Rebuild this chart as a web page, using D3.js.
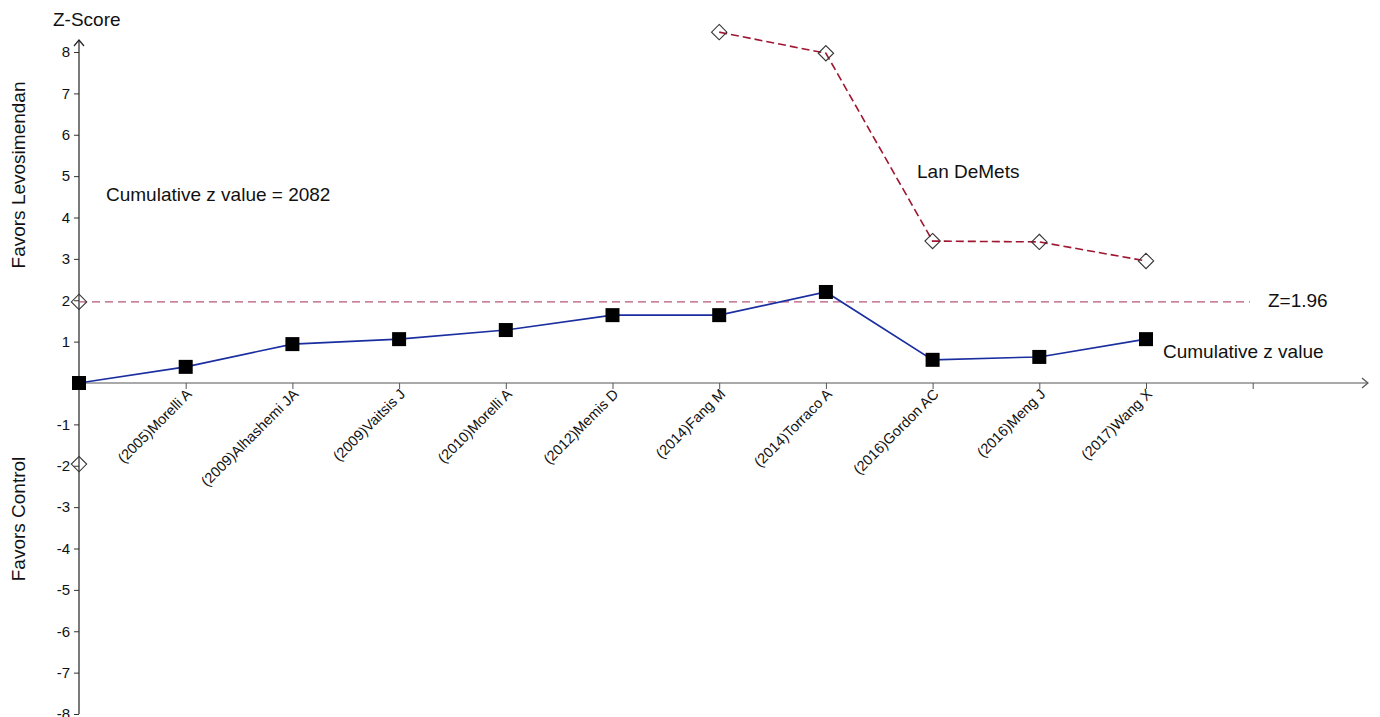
<!DOCTYPE html>
<html>
<head>
<meta charset="utf-8">
<script src="https://cdn.jsdelivr.net/npm/d3@7"></script>
<style>
body { margin: 0; background: #fff; }
text { font-family: "Liberation Sans", Arial, sans-serif; fill: #111; }
</style>
</head>
<body>
<script>
// studies along the x axis (index 0 is the origin)
var studies = ["(2005)Morelli A", "(2009)Alhashemi JA", "(2009)Vaitsis J", "(2010)Morelli A",
  "(2012)Memis D", "(2014)Fang M", "(2014)Torraco A", "(2016)Gordon AC", "(2016)Meng J", "(2017)Wang X"];
var cumZ = [0, 0.39, 0.94, 1.06, 1.28, 1.64, 1.64, 2.20, 0.56, 0.63, 1.06];
// Lan DeMets boundary, from Fang M onwards
var ldIndex = [6, 7, 8, 9, 10];
var ldZ = [8.48, 7.97, 3.43, 3.41, 2.95];
var yTicks = [-8, -7, -6, -5, -4, -3, -2, -1, 1, 2, 3, 4, 5, 6, 7, 8];

var svg = d3.select("body").append("svg")
  .attr("width", 1380)
  .attr("height", 717);

var x = d3.scaleLinear().domain([0, 10]).range([79, 1146]);
var y = d3.scaleLinear().domain([-8, 8]).range([714, 52]);

// y axis
var yAxis = svg.append("g")
  .attr("transform", "translate(" + x(0) + ",0)")
  .call(d3.axisLeft(y).tickValues(yTicks).tickSize(5).tickPadding(4).tickFormat(function(d) { return String(d); }));
yAxis.select(".domain").remove();
yAxis.selectAll("line").attr("stroke", "#333");
yAxis.selectAll("text").style("font-size", "15px").style("font-family", "Liberation Sans, Arial, sans-serif");
svg.append("line")
  .attr("x1", x(0)).attr("x2", x(0))
  .attr("y1", y(-8)).attr("y2", 40)
  .attr("stroke", "#222").attr("stroke-width", 1.2);
svg.append("path")
  .attr("d", "M" + (x(0) - 5) + ",46 L" + x(0) + ",40 L" + (x(0) + 5) + ",46")
  .attr("fill", "none").attr("stroke", "#222").attr("stroke-width", 1.2);

// x axis
var xAxis = svg.append("g")
  .attr("transform", "translate(0," + y(0) + ")")
  .call(d3.axisBottom(x).tickValues(d3.range(1, 12)).tickSize(6).tickFormat(""));
xAxis.select(".domain").remove();
xAxis.selectAll("line").attr("stroke", "#555");
svg.append("line")
  .attr("x1", x(0)).attr("x2", 1368)
  .attr("y1", y(0)).attr("y2", y(0))
  .attr("stroke", "#555").attr("stroke-width", 1.2);
svg.append("path")
  .attr("d", "M1362," + (y(0) - 5) + " L1368," + y(0) + " L1362," + (y(0) + 5))
  .attr("fill", "none").attr("stroke", "#555").attr("stroke-width", 1.2);

svg.selectAll(".study")
  .data(studies)
  .enter().append("text")
  .attr("class", "study")
  .attr("text-anchor", "end")
  .attr("transform", function(d, i) { return "translate(" + (x(i + 1) + 7) + "," + (y(0) + 12) + ") rotate(-45)"; })
  .style("font-size", "14.5px")
  .text(function(d) { return d; });

// Z = 1.96 reference line
svg.append("line")
  .attr("x1", x(0)).attr("x2", 1250)
  .attr("y1", y(1.96)).attr("y2", y(1.96))
  .attr("stroke", "#b8577a").attr("stroke-width", 1.4)
  .attr("stroke-dasharray", "8,5");

// Lan DeMets boundary
var ldData = ldIndex.map(function(d, i) { return [d, ldZ[i]]; });
svg.append("path")
  .datum(ldData)
  .attr("fill", "none")
  .attr("stroke", "#a0152f").attr("stroke-width", 1.6)
  .attr("stroke-dasharray", "8,4")
  .attr("d", d3.line().x(function(d) { return x(d[0]); }).y(function(d) { return y(d[1]); }));

var diamonds = ldData.concat([[0, 1.96], [0, -1.96]]);
svg.selectAll(".diamond")
  .data(diamonds)
  .enter().append("path")
  .attr("class", "diamond")
  .attr("d", d3.symbol().type(d3.symbolDiamond2).size(150))
  .attr("transform", function(d) { return "translate(" + x(d[0]) + "," + y(d[1]) + ")"; })
  .attr("fill", "none").attr("stroke", "#333").attr("stroke-width", 1.1);

// cumulative z curve
var czData = cumZ.map(function(d, i) { return [i, d]; });
svg.append("path")
  .datum(czData)
  .attr("fill", "none")
  .attr("stroke", "#1a2ea0").attr("stroke-width", 1.6)
  .attr("d", d3.line().x(function(d) { return x(d[0]); }).y(function(d) { return y(d[1]); }));
svg.selectAll(".sq")
  .data(czData)
  .enter().append("rect")
  .attr("class", "sq")
  .attr("x", function(d) { return x(d[0]) - 7; })
  .attr("y", function(d) { return y(d[1]) - 7; })
  .attr("width", 14).attr("height", 14)
  .attr("fill", "#000");

// text labels
svg.append("text").attr("x", 53).attr("y", 26).style("font-size", "19px").text("Z-Score");
svg.append("text")
  .attr("transform", "translate(25,175) rotate(-90)")
  .attr("text-anchor", "middle").style("font-size", "19px")
  .text("Favors Levosimendan");
svg.append("text")
  .attr("transform", "translate(25,519) rotate(-90)")
  .attr("text-anchor", "middle").style("font-size", "19px")
  .text("Favors Control");
svg.append("text").attr("x", 106).attr("y", 201).style("font-size", "19px").text("Cumulative z value = 2082");
svg.append("text").attr("x", 917).attr("y", 178).style("font-size", "19px").text("Lan DeMets");
svg.append("text").attr("x", 1268).attr("y", 307).style("font-size", "19px").text("Z=1.96");
svg.append("text").attr("x", 1163).attr("y", 358).style("font-size", "19px").text("Cumulative z value");
</script>
</body>
</html>
